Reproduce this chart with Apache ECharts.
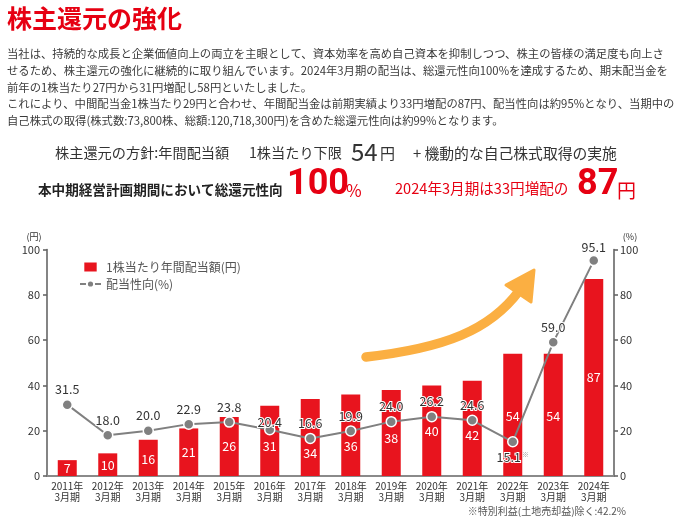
<!DOCTYPE html>
<html>
<head>
<meta charset="utf-8">
<script src="https://cdn.jsdelivr.net/npm/echarts@6/dist/echarts.min.js"></script>
<style>
html,body{margin:0;padding:0;background:#fff;}
#chart{width:674px;height:520px;}
</style>
</head>
<body>
<div id="chart"></div>
<script>
// ---- data ----
const categories = ['2011年\n3月期','2012年\n3月期','2013年\n3月期','2014年\n3月期','2015年\n3月期','2016年\n3月期','2017年\n3月期','2018年\n3月期','2019年\n3月期','2020年\n3月期','2021年\n3月期','2022年\n3月期','2023年\n3月期','2024年\n3月期'];
const dividendPerShare = [7, 10, 16, 21, 26, 31, 34, 36, 38, 40, 42, 54, 54, 87];
const payoutRatio = [31.5, 18.0, 20.0, 22.9, 23.8, 20.4, 16.6, 19.9, 24.0, 26.2, 24.6, 15.1, 59.0, 95.1];
const axisMin = 0, axisMax = 100, axisInterval = 20;
const seriesNames = ['1株当たり年間配当額(円)', '配当性向(%)'];
const noteIndex = 11; // 2022年3月期 (※)
const titleText = '株主還元の強化';
const paragraphLines = [
  '当社は、持続的な成長と企業価値向上の両立を主眼として、資本効率を高め自己資本を抑制しつつ、株主の皆様の満足度も向上さ',
  'せるため、株主還元の強化に継続的に取り組んでいます。2024年3月期の配当は、総還元性向100%を達成するため、期末配当金を',
  '前年の1株当たり27円から31円増配し58円といたしました。',
  'これにより、中間配当金1株当たり29円と合わせ、年間配当金は前期実績より33円増配の87円、配当性向は約95%となり、当期中の',
  '自己株式の取得(株式数:73,800株、総額:120,718,300円)を含めた総還元性向は約99%となります。'
];
const footnote = '※特別利益(土地売却益)除く:42.2%';

// ---- styling ----
const FONT = '"Noto Sans CJK JP", "Noto Sans", sans-serif';
const RED = '#E8141E';
const TITLE_RED = '#E60012';
const GRAY = '#808080';
const ORANGE = '#FBAF42';
const barLabelDy = [0, 1, 1, 0, 0, 5, 16, 11, 5, 1, 7, 1, 1, 0];
const lineLabelDy = [0, 0, 0, 0, 0, 7, 0, 0, 0, 0, 0, 0, 0, 2];

const chart = echarts.init(document.getElementById('chart'), null, {renderer: 'canvas'});

const graphics = [];
graphics.push({type:'text', left: 7, top: 6, style:{text: titleText, fontSize: 25, fontWeight:'bold', fill: TITLE_RED, fontFamily: FONT}});
const paraY = [53.3, 70.7, 87.3, 104, 120.5];
paragraphLines.forEach((t, i) => {
  graphics.push({type:'text', x: 7, y: paraY[i], style:{text: t, fontSize: 11.35, fill:'#3a3a3a', fontFamily: FONT, verticalAlign:'middle', align:'left'}});
});
// headline line A
graphics.push({type:'text', x: 55, y: 153, style:{text:'株主還元の方針:年間配当額', fontSize: 14.2, fill:'#333', fontFamily: FONT, verticalAlign:'middle'}});
graphics.push({type:'text', x: 249, y: 153, style:{text:'1株当たり下限', fontSize: 14.2, fill:'#333', fontFamily: FONT, verticalAlign:'middle'}});
graphics.push({type:'text', x: 351, y: 152, style:{text:'54', fontSize: 24, fill:'#333', fontFamily: FONT, verticalAlign:'middle'}});
graphics.push({type:'text', x: 380, y: 153, style:{text:'円', fontSize: 15, fill:'#333', fontFamily: FONT, verticalAlign:'middle'}});
graphics.push({type:'text', x: 413, y: 153, style:{text:'+ 機動的な自己株式取得の実施', fontSize: 14.8, fill:'#333', fontFamily: FONT, verticalAlign:'middle'}});
// headline line B
graphics.push({type:'text', x: 38, y: 190, style:{text:'本中期経営計画期間において総還元性向', fontSize: 13.6, fontWeight:'bold', fill:'#222', fontFamily: FONT, verticalAlign:'middle'}});
graphics.push({type:'text', x: 287, y: 185, style:{text:'100', fontSize: 36, fontWeight:'bold', fill: TITLE_RED, fontFamily: 'Roboto, sans-serif', verticalAlign:'middle'}});
graphics.push({type:'text', x: 346, y: 191, style:{text:'%', fontSize: 17, fill: TITLE_RED, fontFamily: FONT, verticalAlign:'middle'}});
graphics.push({type:'text', x: 395, y: 188, style:{text:'2024年3月期は33円増配の', fontSize: 14.6, fill: TITLE_RED, fontFamily: FONT, verticalAlign:'middle'}});
graphics.push({type:'text', x: 577, y: 185, style:{text:'87', fontSize: 36, fontWeight:'bold', fill: TITLE_RED, fontFamily: 'Roboto, sans-serif', verticalAlign:'middle'}});
graphics.push({type:'text', x: 617, y: 191, style:{text:'円', fontSize: 19, fill: TITLE_RED, fontFamily: FONT, verticalAlign:'middle'}});
// axis units
graphics.push({type:'text', x: 34, y: 237, style:{text:'(円)', fontSize: 9, fill:'#333', fontFamily: FONT, align:'center', verticalAlign:'middle'}});
graphics.push({type:'text', x: 630, y: 237, style:{text:'(%)', fontSize: 9, fill:'#333', fontFamily: FONT, align:'center', verticalAlign:'middle'}});
// footnote
graphics.push({type:'text', x: 626, y: 511, style:{text: footnote, fontSize: 10, fill:'#555', fontFamily: FONT, align:'right', verticalAlign:'middle'}});
// decorative arrow
graphics.push({type:'bezierCurve', shape:{x1:366, y1:357, cpx1:445, cpy1:348, cpx2:490, cpy2:330, x2:519, y2:291}, style:{stroke: ORANGE, lineWidth: 9.5, lineCap:'round', fill: null}, z: 5});
graphics.push({type:'polygon', shape:{points:[[506,285],[534,270],[531,302]]}, style:{fill: ORANGE, stroke: ORANGE, lineWidth: 3, lineJoin:'round'}, z: 5});

const axisLineStyle = {color:'#666', width: 1.6};

const option = {
  animation: false,
  textStyle: {fontFamily: FONT},
  grid: {left: 47, right: 60, top: 249.5, bottom: 44, containLabel: false},
  legend: {
    orient: 'vertical', left: 74, top: 256, itemWidth: 21, itemHeight: 9, itemGap: 5,
    textStyle: {fontSize: 12, color: '#555', fontFamily: FONT},
    data: [
      {name: seriesNames[0], icon: 'path://M0,0h11v8h-11z'},
      {name: seriesNames[1]}
    ]
  },
  xAxis: {
    type: 'category', data: categories,
    axisLine: {lineStyle: {color: '#8a8a8a', width: 2}},
    axisTick: {show: false},
    axisLabel: {interval: 0, fontSize: 10, color: '#333', lineHeight: 11, margin: 5, fontFamily: FONT}
  },
  yAxis: [
    {type:'value', min: axisMin, max: axisMax, interval: axisInterval, position:'left',
     axisLine:{show:true, lineStyle: axisLineStyle}, axisTick:{show:true, length:4, lineStyle: axisLineStyle},
     splitLine:{show:false}, axisLabel:{fontSize: 11, color:'#333', margin: 7}},
    {type:'value', min: axisMin, max: axisMax, interval: axisInterval, position:'right',
     axisLine:{show:true, lineStyle: axisLineStyle}, axisTick:{show:true, length:4, lineStyle: axisLineStyle},
     splitLine:{show:false}, axisLabel:{fontSize: 11, color:'#333', margin: 6}}
  ],
  series: [
    {
      name: seriesNames[0], type: 'bar', yAxisIndex: 0, barWidth: 19,
      itemStyle: {color: RED},
      data: dividendPerShare.map((v, i) => ({value: v, label: {offset: [0, barLabelDy[i]]}})),
      label: {show: true, position: 'inside', color: '#fff', fontSize: 12.5, fontFamily: FONT},
      z: 2
    },
    {
      name: seriesNames[1], type: 'line', yAxisIndex: 1,
      symbol: 'circle', symbolSize: 10,
      lineStyle: {color: GRAY, width: 2},
      itemStyle: {color: GRAY, borderColor: '#fff', borderWidth: 1.5},
      data: payoutRatio.map((v, i) => {
        const d = {value: v, label: {offset: [0, lineLabelDy[i]]}};
        if (i === noteIndex) {
          d.label = {position: 'bottom', distance: 3, formatter: (p) => p.value.toFixed(1) + '{s|※}'};
        }
        return d;
      }),
      label: {
        show: true, position: 'top', distance: 3, fontSize: 12.5, color: '#333',
        textBorderColor: '#fff', textBorderWidth: 2, fontFamily: FONT,
        formatter: (p) => p.value.toFixed(1),
        rich: {s: {fontSize: 7, color: '#999', verticalAlign: 'top', padding: [0,0,6,1], textBorderWidth: 0}}
      },
      z: 3
    }
  ],
  graphic: graphics
};
chart.setOption(option);
</script>
</body>
</html>
